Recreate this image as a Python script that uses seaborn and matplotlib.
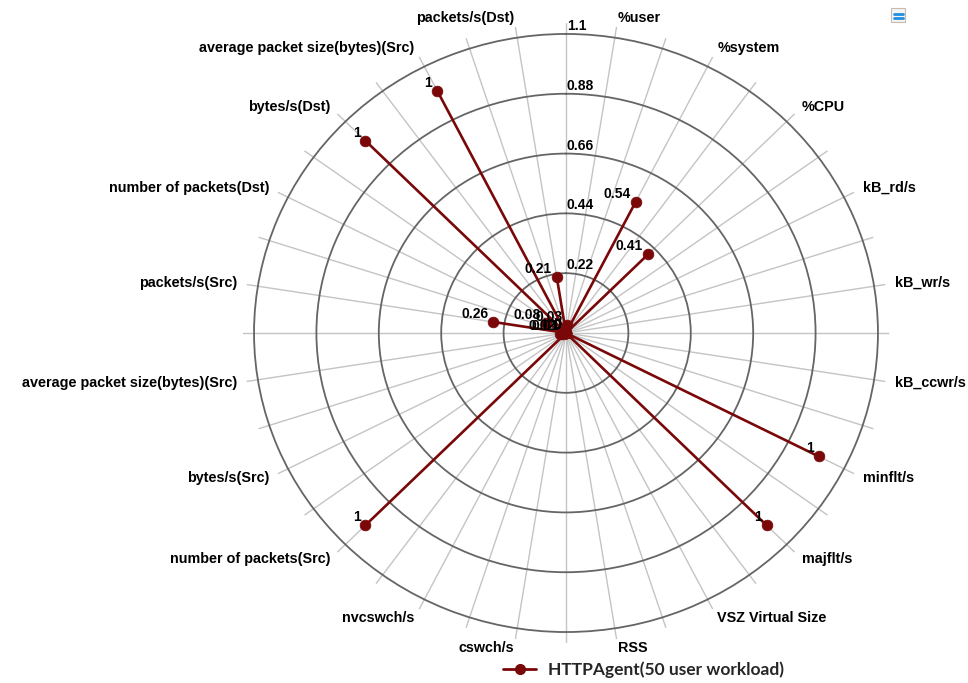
import numpy as np
import pandas as pd
import matplotlib
matplotlib.use("Agg")
import matplotlib.pyplot as plt
from matplotlib.lines import Line2D
from matplotlib.patches import Rectangle
import seaborn as sns

# Metric names, clockwise from the top
categories = [
    "%user", "%system", "%CPU", "kB_rd/s", "kB_wr/s", "kB_ccwr/s",
    "minflt/s", "majflt/s", "VSZ Virtual Size", "RSS", "cswch/s", "nvcswch/s",
    "number of packets(Src)", "bytes/s(Src)", "average packet size(bytes)(Src)",
    "packets/s(Src)", "number of packets(Dst)", "bytes/s(Dst)",
    "average packet size(bytes)(Src)", "packets/s(Dst)",
]
# Normalised values for the HTTP agent under a 50 user workload
values = [
    0.03, 0.54, 0.41, 0, 0, 0,
    1, 1, 0, 0, 0, 0,
    1, 0.01, 0.02,
    0.26, 0.08, 1,
    1, 0.21,
]
series_name = "HTTPAgent(50 user workload)"
radial_ticks = [0.22, 0.44, 0.66, 0.88, 1.1]
radial_labels = ["0.22", "0.44", "0.66", "0.88", "1.1"]

RED = "#7a0808"
n = len(categories)
step = 2 * np.pi / n
theta = np.arange(n) * step + step / 2

# Each value is drawn as a ray from the centre to its marker
rows = []
for cat, t, v in zip(categories, theta, values):
    rows.append({"metric": cat + str(t), "theta": t, "r": 0.0})
    rows.append({"metric": cat + str(t), "theta": t, "r": v})
rays = pd.DataFrame(rows)
points = pd.DataFrame({"theta": theta, "r": values})

sns.set_style("white")
plt.rcParams["font.family"] = ["Liberation Sans", "DejaVu Sans"]

fig = plt.figure(figsize=(9.68, 6.83), dpi=100)
ax = fig.add_axes([0.2507, 0.0587, 0.668, 0.9075], projection="polar")
ax.set_aspect("auto")
ax.set_theta_zero_location("N")
ax.set_theta_direction(-1)
ax.set_ylim(0, 1.14)

# Grid: light spokes every half step, darker rings at the radial ticks
ax.set_xticks(np.arange(2 * n) * step / 2)
ax.set_xticklabels([])
ax.set_yticks(radial_ticks)
ax.set_yticklabels([])
ax.xaxis.grid(True, color="#c4c4c4", linewidth=1.0)
ax.yaxis.grid(True, color="#656565", linewidth=1.3)
ax.spines["polar"].set_visible(False)
ax.set_facecolor("white")

sns.lineplot(data=rays, x="theta", y="r", units="metric", estimator=None,
             sort=False, color=RED, linewidth=1.9, ax=ax, legend=False, zorder=3)
sns.scatterplot(data=points, x="theta", y="r", color=RED, s=60,
                edgecolor=RED, linewidth=0.5, ax=ax, legend=False, zorder=4)
ax.set_xlabel("")
ax.set_ylabel("")

# Value labels next to each marker
for t, v in zip(theta, values):
    ax.annotate(f"{v:g}", xy=(t, v), xytext=(-5, 8), textcoords="offset pixels",
                ha="right", va="center", fontsize=10, fontweight="bold",
                color="black", zorder=5)

# Radial tick labels along the vertical spoke
for r, lab in zip(radial_ticks, radial_labels):
    ax.annotate(lab, xy=(0, r), xytext=(1, 1), textcoords="offset pixels",
                ha="left", va="bottom", fontsize=10, fontweight="bold",
                color="black", zorder=5)

# Metric names outside the outer ring
label_r = 1.1 * 1.068
for cat, t in zip(categories, theta):
    ha = "left" if t < np.pi else "right"
    ax.text(t, label_r, cat, ha=ha, va="center", fontsize=10.4,
            fontweight="bold", color="black", clip_on=False)

# Legend below the chart
handle = Line2D([0], [0], color=RED, linewidth=2.0, marker="o",
                markersize=7, markerfacecolor=RED, markeredgecolor=RED)
leg = fig.legend([handle], [series_name], loc="center",
                 bbox_to_anchor=(0.665, 0.02), frameon=False,
                 handlelength=1.9, handletextpad=0.7,
                 prop={"family": "Lato", "weight": "bold", "size": 12.5})

# Small menu button in the top right corner
fig.patches.append(Rectangle((891 / 968, 1 - 22 / 683), 14 / 968, 14 / 683,
                             transform=fig.transFigure, facecolor="#f4f4f4",
                             edgecolor="#c9b9b0", linewidth=0.8))
for yy in (13.5, 17.5):
    fig.lines.append(Line2D([893.5 / 968, 902.5 / 968],
                            [1 - yy / 683, 1 - yy / 683],
                            transform=fig.transFigure, color="#1e90e0",
                            linewidth=2.0))

fig.savefig("out.png", dpi=100, facecolor="white")
